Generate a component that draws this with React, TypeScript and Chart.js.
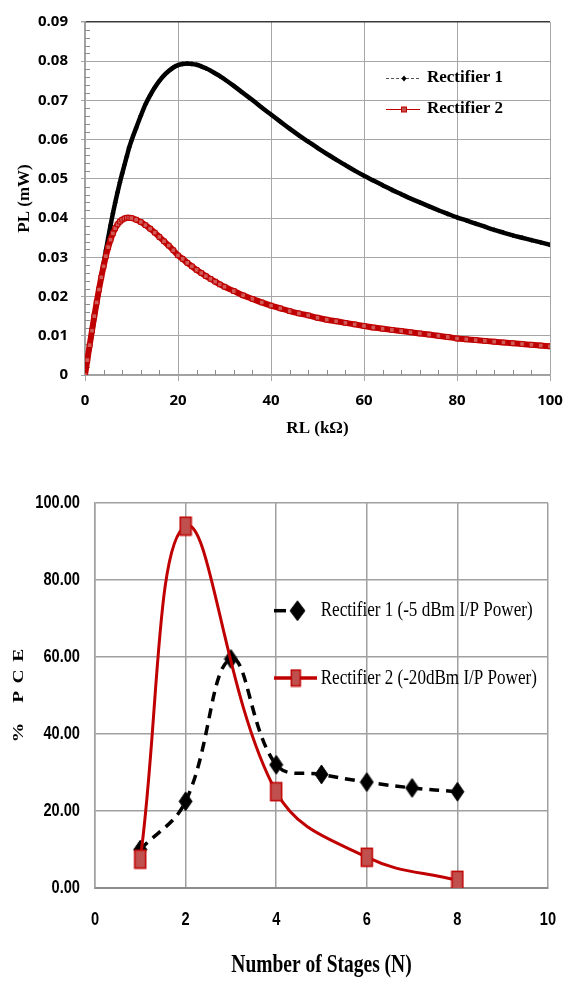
import React, { useEffect, useRef } from 'react';
import { Chart, registerables } from 'chart.js';

Chart.register(...registerables);

// ---------- Top chart data: PL (mW) vs RL (kΩ) ----------
const rlValues = [
  0, 0.5, 1, 1.5, 2, 2.5, 3, 3.5, 4, 4.5, 5, 5.5, 6, 6.5, 7, 7.5, 8, 8.5, 9, 9.5, 10,
  11, 12, 13, 14, 15, 16, 17, 18, 19, 20, 21, 22, 23, 24, 25, 26, 27, 28, 29, 30,
  32, 34, 36, 38, 40, 42, 44, 46, 48, 50, 52, 54, 56, 58, 60, 62, 64, 66, 68, 70,
  72, 74, 76, 78, 80, 82, 84, 86, 88, 90, 92, 94, 96, 98, 100,
];
const rectifier1Power = [
  0, 0.0036, 0.0072, 0.0108, 0.0144, 0.018, 0.0215, 0.025, 0.0284, 0.0318, 0.035, 0.0382, 0.0412, 0.044, 0.0466, 0.0491, 0.0514, 0.0536, 0.0558, 0.058, 0.0598,
  0.063, 0.0661, 0.069, 0.0713, 0.0733, 0.075, 0.0764, 0.0775, 0.0784, 0.079, 0.0793, 0.0794, 0.0793, 0.0791, 0.0787, 0.0782, 0.0776, 0.0769, 0.0762, 0.0754,
  0.0737, 0.0719, 0.0701, 0.0682, 0.0664, 0.0646, 0.0628, 0.0611, 0.0595, 0.0579, 0.0564, 0.0549, 0.0535, 0.0521, 0.0508, 0.0496, 0.0484, 0.0472, 0.0461, 0.045,
  0.044, 0.043, 0.042, 0.0411, 0.0402, 0.0394, 0.0386, 0.0378, 0.037, 0.0363, 0.0356, 0.035, 0.0344, 0.0338, 0.0332,
];
const rectifier2Power = [
  0, 0.0038, 0.0076, 0.0113, 0.015, 0.0185, 0.0218, 0.0249, 0.0277, 0.0303, 0.0326, 0.0345, 0.0361, 0.0374, 0.0384, 0.0391, 0.0396, 0.0399, 0.0401, 0.0401, 0.04,
  0.0396, 0.039, 0.0382, 0.0373, 0.0363, 0.0352, 0.0341, 0.033, 0.0318, 0.0305, 0.0296, 0.0286, 0.0277, 0.0268, 0.026, 0.0252, 0.0245, 0.0238, 0.0231, 0.0225,
  0.0214, 0.0203, 0.0194, 0.0185, 0.0177, 0.017, 0.0163, 0.0157, 0.0152, 0.0146, 0.0141, 0.0137, 0.0133, 0.0129, 0.0125, 0.0121, 0.0118, 0.0115, 0.0112, 0.0109,
  0.0106, 0.0103, 0.01, 0.0097, 0.0093, 0.0091, 0.0089, 0.0087, 0.0085, 0.0083, 0.0081, 0.0079, 0.0077, 0.0075, 0.0073,
];
const topSeriesLabels = ['Rectifier 1', 'Rectifier 2'];
const topXTitle = 'RL (kΩ)';
const topYTitle = 'PL (mW)';

// ---------- Bottom chart data: % PCE vs number of stages ----------
const stages1 = [1, 2, 3, 4, 5, 6, 7, 8];
const pce1 = [10, 22.5, 59.5, 32, 29.5, 27.5, 26, 25];
const stages2 = [1, 2, 4, 6, 8];
const pce2 = [7.5, 94, 25, 8, 2];
const bottomSeriesLabels = ['Rectifier 1 (-5 dBm I/P Power)', 'Rectifier 2 (-20dBm I/P Power)'];
const bottomXTitle = 'Number of Stages (N)';
const bottomYTitle = '% PCE';

const SERIF = '"Liberation Serif", "Times New Roman", serif';
const SANS = '"Liberation Sans", Arial, sans-serif';

function makeDiamond(w: number, h: number, fill: string, stroke: string) {
  const c = document.createElement('canvas');
  c.width = w + 2;
  c.height = h + 2;
  const g = c.getContext('2d')!;
  g.beginPath();
  g.moveTo(c.width / 2, 1);
  g.lineTo(w + 1, c.height / 2);
  g.lineTo(c.width / 2, h + 1);
  g.lineTo(1, c.height / 2);
  g.closePath();
  g.fillStyle = fill;
  g.fill();
  g.strokeStyle = stroke;
  g.lineWidth = 1;
  g.stroke();
  return c;
}

function makeRect(w: number, h: number, fill: string, stroke: string) {
  const c = document.createElement('canvas');
  c.width = w + 2;
  c.height = h + 2;
  const g = c.getContext('2d')!;
  g.fillStyle = fill;
  g.fillRect(1, 1, w, h);
  g.strokeStyle = stroke;
  g.lineWidth = 1.5;
  g.strokeRect(1.5, 1.5, w - 1, h - 1);
  return c;
}

function drawScaled(
  ctx: CanvasRenderingContext2D,
  text: string,
  x: number,
  y: number,
  font: string,
  sx: number,
  align: CanvasTextAlign,
) {
  ctx.save();
  ctx.translate(x, y);
  ctx.scale(sx, 1);
  ctx.font = font;
  ctx.textAlign = align;
  ctx.textBaseline = 'middle';
  ctx.fillStyle = '#000';
  ctx.fillText(text, 0, 0);
  ctx.restore();
}

export default function App() {
  const topRef = useRef<HTMLCanvasElement | null>(null);
  const bottomRef = useRef<HTMLCanvasElement | null>(null);

  useEffect(() => {
    if (!topRef.current || !bottomRef.current) return;

    // ---------------- TOP CHART ----------------
    const topMinorTicks = {
      id: 'topMinorTicks',
      beforeDatasetsDraw(chart: any) {
        const { ctx, chartArea, scales } = chart;
        const xs = scales.x;
        const ys = scales.y;
        ctx.save();
        ctx.strokeStyle = '#8c8c8c';
        ctx.lineWidth = 1;
        ctx.beginPath();
        for (let i = 1; i < 45; i++) {
          if (i % 5 === 0) continue;
          const py = Math.round(ys.getPixelForValue(i * 0.002)) + 0.5;
          ctx.moveTo(chartArea.left, py);
          ctx.lineTo(chartArea.left + 5, py);
        }
        for (let i = 1; i < 25; i++) {
          if (i % 5 === 0) continue;
          const px = Math.round(xs.getPixelForValue(i * 4)) + 0.5;
          ctx.moveTo(px, chartArea.bottom);
          ctx.lineTo(px, chartArea.bottom - 5);
        }
        ctx.stroke();
        ctx.restore();
      },
    };

    const topLegend = {
      id: 'topLegend',
      afterDraw(chart: any) {
        const { ctx } = chart;
        ctx.save();
        // Rectifier 1 sample
        ctx.strokeStyle = '#555';
        ctx.lineWidth = 1;
        ctx.setLineDash([3, 2]);
        ctx.beginPath();
        ctx.moveTo(386, 78.5);
        ctx.lineTo(420, 78.5);
        ctx.stroke();
        ctx.setLineDash([]);
        ctx.fillStyle = '#000';
        ctx.beginPath();
        ctx.moveTo(404, 75.5);
        ctx.lineTo(406.5, 78.5);
        ctx.lineTo(404, 81.5);
        ctx.lineTo(401.5, 78.5);
        ctx.closePath();
        ctx.fill();
        // Rectifier 2 sample
        ctx.strokeStyle = '#c00000';
        ctx.lineWidth = 1.2;
        ctx.beginPath();
        ctx.moveTo(386, 109.5);
        ctx.lineTo(420, 109.5);
        ctx.stroke();
        ctx.fillStyle = '#c0504d';
        ctx.fillRect(401.5, 107, 5, 5);
        ctx.strokeStyle = '#c00000';
        ctx.lineWidth = 1;
        ctx.strokeRect(401.5, 107, 5, 5);
        ctx.font = `bold 17px ${SERIF}`;
        ctx.fillStyle = '#000';
        ctx.textAlign = 'left';
        ctx.textBaseline = 'middle';
        ctx.fillText(topSeriesLabels[0], 427, 78);
        ctx.fillText(topSeriesLabels[1], 427, 109);
        ctx.restore();
      },
    };

    const tickFont = { family: '"Open Sans", "Liberation Sans", sans-serif', size: 15, weight: 'bold' as const };

    const top = new Chart(topRef.current, {
      type: 'line',
      data: {
        datasets: [
          {
            label: topSeriesLabels[0],
            data: rlValues.map((x, i) => ({ x, y: rectifier1Power[i] })),
            borderColor: '#000',
            borderWidth: 4.5,
            pointStyle: 'rectRot',
            pointRadius: 2.6,
            pointBackgroundColor: '#000',
            pointBorderColor: '#000',
            pointBorderWidth: 0,
            cubicInterpolationMode: 'monotone',
            order: 2,
          },
          {
            label: topSeriesLabels[1],
            data: rlValues.map((x, i) => ({ x, y: rectifier2Power[i] })),
            borderColor: '#c00000',
            borderWidth: 6,
            pointStyle: 'rect',
            pointRadius: 3.3,
            pointBackgroundColor: '#d05a57',
            pointBorderColor: '#c00000',
            pointBorderWidth: 1,
            cubicInterpolationMode: 'monotone',
            order: 1,
          },
        ],
      },
      options: {
        animation: false,
        responsive: false,
        devicePixelRatio: 1,
        layout: { padding: { left: 0, right: 24, top: 14, bottom: 0 } },
        plugins: { legend: { display: false }, tooltip: { enabled: false } },
        scales: {
          x: {
            type: 'linear',
            min: 0,
            max: 100,
            ticks: { stepSize: 20, font: tickFont, color: '#000', padding: 11 },
            grid: { color: '#a6a6a6', lineWidth: 1, tickLength: 6, tickColor: '#a6a6a6' },
            border: { color: '#a0a0a0', width: 1.5 },
            title: {
              display: true,
              text: topXTitle,
              color: '#000',
              font: { family: SERIF, size: 17, weight: 'bold' },
              padding: { top: 0, bottom: 10.8 },
            },
            afterFit: (s: any) => {
              s.height = 75;
            },
          },
          y: {
            type: 'linear',
            min: 0,
            max: 0.09,
            ticks: {
              stepSize: 0.01,
              font: tickFont,
              color: '#000',
              padding: 13,
              callback: (v: any) => (Number(v) === 0 ? '0' : Number(v).toFixed(2)),
            },
            grid: {
              color: (c: any) => (c.tick && Math.abs(c.tick.value - 0.09) < 1e-9 ? '#3a3a3a' : '#a6a6a6'),
              lineWidth: (c: any) => (c.tick && Math.abs(c.tick.value - 0.09) < 1e-9 ? 1.5 : 1),
              tickLength: 4,
              tickColor: '#a6a6a6',
            },
            border: { color: '#a0a0a0', width: 1.5 },
            title: {
              display: true,
              text: topYTitle,
              color: '#000',
              font: { family: SERIF, size: 17, weight: 'bold' },
              padding: { top: 14.8, bottom: 0 },
            },
            afterFit: (s: any) => {
              s.width = 85;
            },
          },
        },
      },
      plugins: [topMinorTicks, topLegend],
    } as any);

    // ---------------- BOTTOM CHART ----------------
    const diamond = makeDiamond(13, 19, '#000', '#111');
    const redRect = makeRect(12, 19, '#c0504d', '#c00000');
    const legendRect = makeRect(10, 17, '#c0504d', '#c00000');
    const legendDiamond = makeDiamond(15, 20, '#000', '#111');

    const bottomText = {
      id: 'bottomText',
      afterDraw(chart: any) {
        const { ctx, scales, chartArea } = chart;
        const xs = scales.x;
        const ys = scales.y;
        const labelFont = `bold 19px ${SANS}`;
        ys.ticks.forEach((t: any) => {
          drawScaled(ctx, Number(t.value).toFixed(2), 80, ys.getPixelForValue(t.value), labelFont, 0.77, 'right');
        });
        xs.ticks.forEach((t: any) => {
          drawScaled(ctx, String(t.value), xs.getPixelForValue(t.value), chartArea.bottom + 32, labelFont, 0.77, 'center');
        });
        // x title
        drawScaled(ctx, bottomXTitle, (chartArea.left + chartArea.right) / 2, chartArea.bottom + 78, `bold 25px ${SERIF}`, 0.78, 'center');
        // y title, rotated, letter spaced
        ctx.save();
        ctx.translate(19, (chartArea.top + chartArea.bottom) / 2);
        ctx.rotate(-Math.PI / 2);
        ctx.font = `bold 15px ${SERIF}`;
        ctx.fillStyle = '#000';
        ctx.textAlign = 'left';
        ctx.textBaseline = 'middle';
        const sx = 1.3;
        const gap = 7.5;
        const chars = Array.from(bottomYTitle);
        let total = 0;
        chars.forEach((ch, i) => {
          total += ctx.measureText(ch).width * sx + (i < chars.length - 1 ? gap : 0);
        });
        let pos = -total / 2;
        chars.forEach((ch) => {
          ctx.save();
          ctx.translate(pos, 0);
          ctx.scale(sx, 1);
          ctx.fillText(ch, 0, 0);
          ctx.restore();
          pos += ctx.measureText(ch).width * sx + gap;
        });
        ctx.restore();

        // legend
        ctx.save();
        ctx.strokeStyle = '#000';
        ctx.lineWidth = 3.5;
        ctx.beginPath();
        ctx.moveTo(274, 150.7);
        ctx.lineTo(286, 150.7);
        ctx.stroke();
        ctx.drawImage(legendDiamond, 297.5 - legendDiamond.width / 2, 150.7 - legendDiamond.height / 2);
        ctx.strokeStyle = '#c00000';
        ctx.lineWidth = 3.5;
        ctx.beginPath();
        ctx.moveTo(274, 218);
        ctx.lineTo(317, 218);
        ctx.stroke();
        ctx.drawImage(legendRect, 295.7 - legendRect.width / 2, 218 - legendRect.height / 2);
        ctx.restore();
        const legFont = `22px ${SERIF}`;
        drawScaled(ctx, bottomSeriesLabels[0], 320.7, 150.7, legFont, 0.776, 'left');
        drawScaled(ctx, bottomSeriesLabels[1], 320.7, 218, legFont, 0.776, 'left');
      },
    };

    const bottom = new Chart(bottomRef.current, {
      type: 'line',
      data: {
        datasets: [
          {
            label: bottomSeriesLabels[0],
            data: stages1.map((x, i) => ({ x, y: pce1[i] })),
            borderColor: '#000',
            borderWidth: 3.5,
            borderDash: [10, 7],
            tension: 0.4,
            pointStyle: diamond,
            pointRadius: 8,
            order: 2,
          },
          {
            label: bottomSeriesLabels[1],
            data: stages2.map((x, i) => ({ x, y: pce2[i] })),
            borderColor: '#c00000',
            borderWidth: 3,
            tension: 0.4,
            pointStyle: redRect,
            pointRadius: 8,
            order: 1,
          },
        ],
      },
      options: {
        animation: false,
        responsive: false,
        devicePixelRatio: 1,
        layout: { padding: { left: 0, right: 26, top: 43, bottom: 0 } },
        plugins: { legend: { display: false }, tooltip: { enabled: false } },
        scales: {
          x: {
            type: 'linear',
            min: 0,
            max: 10,
            ticks: { stepSize: 2, display: false },
            grid: { color: '#a0a0a0', lineWidth: 1.5, drawTicks: false },
            border: { color: '#8c8c8c', width: 2 },
            afterFit: (s: any) => {
              s.height = 96;
            },
          },
          y: {
            type: 'linear',
            min: 0,
            max: 100,
            ticks: { stepSize: 20, display: false },
            grid: { color: '#a0a0a0', lineWidth: 1.5, drawTicks: false },
            border: { color: '#a0a0a0', width: 1.5 },
            afterFit: (s: any) => {
              s.width = 95;
            },
          },
        },
      },
      plugins: [bottomText],
    } as any);

    return () => {
      top.destroy();
      bottom.destroy();
    };
  }, []);

  return (
    <div style={{ position: 'absolute', left: 0, top: 0, width: 574, height: 984, background: '#fff' }}>
      <canvas ref={topRef} width={574} height={450} style={{ position: 'absolute', left: 0, top: 0 }} />
      <canvas ref={bottomRef} width={574} height={524} style={{ position: 'absolute', left: 0, top: 460 }} />
    </div>
  );
}
